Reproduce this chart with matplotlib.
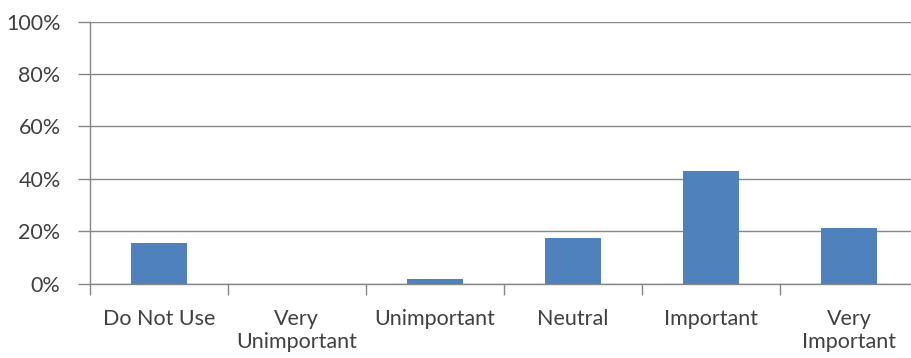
import matplotlib
matplotlib.use('Agg')
import matplotlib.pyplot as plt
from matplotlib.ticker import PercentFormatter

# data
categories = ['Do Not Use', 'Very\nUnimportant', 'Unimportant', 'Neutral',
              'Important', 'Very\nImportant']
shares = [15.5, 0.0, 1.8, 17.4, 43.1, 21.3]
yticks = [0, 20, 40, 60, 80, 100]

bar_blue = '#4F81BD'
axis_grey = '#868686'
text_grey = '#404040'

plt.rcParams['font.family'] = ['Lato', 'DejaVu Sans']
plt.rcParams['font.size'] = 15.5

fig = plt.figure(figsize=(9.11, 3.58), dpi=100, facecolor='white')
# plot area runs a little past the right edge, as in the reference
ax = fig.add_axes([89.7/911, 1 - 283.6/358, (918 - 89.7)/911, (283.6 - 21.5)/358])

x = range(len(categories))
ax.bar(x, shares, width=0.404, color=bar_blue, zorder=3)

ax.set_xlim(-0.5, len(categories) - 0.5)
ax.set_ylim(0, 100)
ax.set_yticks(yticks)
ax.yaxis.set_major_formatter(PercentFormatter(decimals=0))
ax.yaxis.grid(True, color=axis_grey, linewidth=1.0, zorder=0)

ax.set_xticks(list(x))
ax.set_xticklabels(categories, color=text_grey, linespacing=1.2)
ax.set_xticks([i + 0.5 for i in range(-1, len(categories))], minor=True)
ax.tick_params(axis='x', which='major', length=0, pad=18)
ax.tick_params(axis='x', which='minor', length=8, width=1.0, color=axis_grey)
ax.tick_params(axis='y', length=9, width=1.0, color=axis_grey, pad=12,
               labelcolor=text_grey)
for lab in ax.get_xticklabels():
    lab.set_verticalalignment('top')

for side in ['top', 'right']:
    ax.spines[side].set_visible(False)
for side in ['left', 'bottom']:
    ax.spines[side].set_color(axis_grey)
    ax.spines[side].set_linewidth(1.0)

fig.savefig('out.png', dpi=100, facecolor='white')
